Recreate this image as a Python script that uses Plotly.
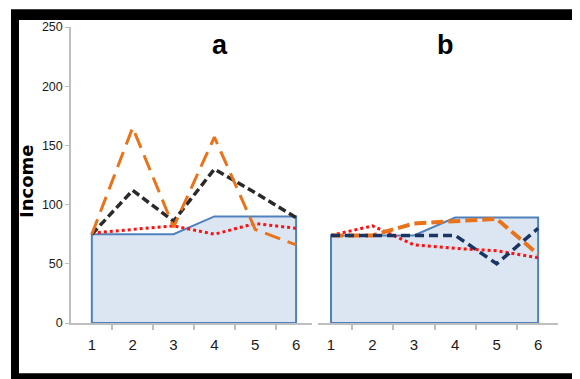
import plotly.graph_objects as go

periods = [1, 2, 3, 4, 5, 6]
y_ticks = [0, 50, 100, 150, 200, 250]

# Panel a
a_base = [75, 75, 75, 90, 90, 90]
a_red = [76, 79, 82, 75, 84, 80]
a_black = [75, 112, 86, 130, 110, 89]
a_orange = [75, 165, 81, 157, 79, 66]

# Panel b
b_base = [74, 74, 74, 89, 89, 89]
b_red = [74, 82, 66, 63, 61, 55]
b_navy = [74, 74, 74, 74, 50, 80]
b_orange = [74, 74, 84, 86, 88, 58]

fill_col = "#dce6f2"
edge_col = "#4f81bd"
red = "#ff1010"
orange = "#e8731a"
black = "#2a2a2a"
navy = "#1b3563"

fig = go.Figure()

def area(xs, ys, xa, ya):
    x = [xs[0]] + xs + [xs[-1], xs[0]]
    y = [0] + ys + [0, 0]
    return go.Scatter(x=x, y=y, mode="lines", fill="toself", fillcolor=fill_col,
                      line=dict(color=edge_col, width=2), xaxis=xa, yaxis=ya,
                      hoverinfo="skip", showlegend=False)

def line(ys, color, width, dash, xa, ya):
    return go.Scatter(x=periods, y=ys, mode="lines",
                      line=dict(color=color, width=width, dash=dash),
                      xaxis=xa, yaxis=ya, showlegend=False)

fig.add_trace(area(periods, a_base, "x", "y"))
fig.add_trace(line(a_red, red, 3, "3px,3px", "x", "y"))
fig.add_trace(line(a_black, black, 3.5, "8px,4px", "x", "y"))
fig.add_trace(line(a_orange, orange, 3, "16px,8px", "x", "y"))

fig.add_trace(area(periods, b_base, "x2", "y2"))
fig.add_trace(line(b_red, red, 3, "3px,3px", "x2", "y2"))
fig.add_trace(line(b_orange, orange, 4, "12px,5px", "x2", "y2"))
fig.add_trace(line(b_navy, navy, 3.5, "9px,5px", "x2", "y2"))

axis_gray = "#bfbfbf"
tick_font = dict(family="Liberation Sans Narrow, Liberation Sans, Arial", size=15, color="#1a1a1a")

common_x = dict(showgrid=False, zeroline=False, showline=True, linecolor=axis_gray, linewidth=2,
                tickmode="array", tickvals=periods, ticktext=[str(p) for p in periods],
                ticks="", tickfont=tick_font, ticklabelstandoff=7,
                minor=dict(tickmode="array", tickvals=[1.5, 2.5, 3.5, 4.5, 5.5],
                           ticks="outside", ticklen=5, tickcolor=axis_gray, tickwidth=1.5))

fig.update_layout(
    width=572, height=371,
    margin=dict(l=63, r=22, t=15, b=56),
    paper_bgcolor="white", plot_bgcolor="rgba(0,0,0,0)",
    xaxis=dict(domain=[0, 0.4949], range=[0.49, 6.39], anchor="y", **common_x),
    xaxis2=dict(domain=[0.5072, 1], range=[0.686, 6.48], anchor="y2", **common_x),
    yaxis=dict(range=[0, 250], tickvals=y_ticks, showgrid=False, zeroline=False,
               showline=True, linecolor=axis_gray, linewidth=1.5, ticks="outside",
               ticklen=4, tickcolor=axis_gray,
               tickfont=dict(family="Liberation Sans Narrow, Liberation Sans, Arial", size=12.5, color="#1a1a1a"),
               anchor="x"),
    yaxis2=dict(range=[0, 250], visible=False, anchor="x2"),
    shapes=[
        dict(type="rect", xref="paper", yref="paper", x0=-0.1232, x1=1.06, y0=-0.2, y1=1.06,
             fillcolor="black", line=dict(width=0), layer="below"),
        dict(type="rect", xref="paper", yref="paper", x0=-0.1068, x1=1.0308, y0=-0.17, y1=1.0233,
             fillcolor="white", line=dict(width=0), layer="below"),
    ],
    annotations=[
        dict(text="<b>a</b>", x=0.305, y=0.882, xref="paper", yref="paper", xanchor="center",
             yanchor="bottom", showarrow=False,
             font=dict(family="Liberation Sans Narrow, Liberation Sans, Arial", size=27, color="black")),
        dict(text="<b>b</b>", x=0.768, y=0.882, xref="paper", yref="paper", xanchor="center",
             yanchor="bottom", showarrow=False,
             font=dict(family="Liberation Sans Narrow, Liberation Sans, Arial", size=27, color="black")),
        dict(text="<b>Income</b>", x=-0.0903, y=0.48, xref="paper", yref="paper", xanchor="center",
             yanchor="middle", textangle=-90, showarrow=False,
             font=dict(family="DejaVu Sans", size=18, color="black")),
    ],
)

fig.write_html("out.html")
